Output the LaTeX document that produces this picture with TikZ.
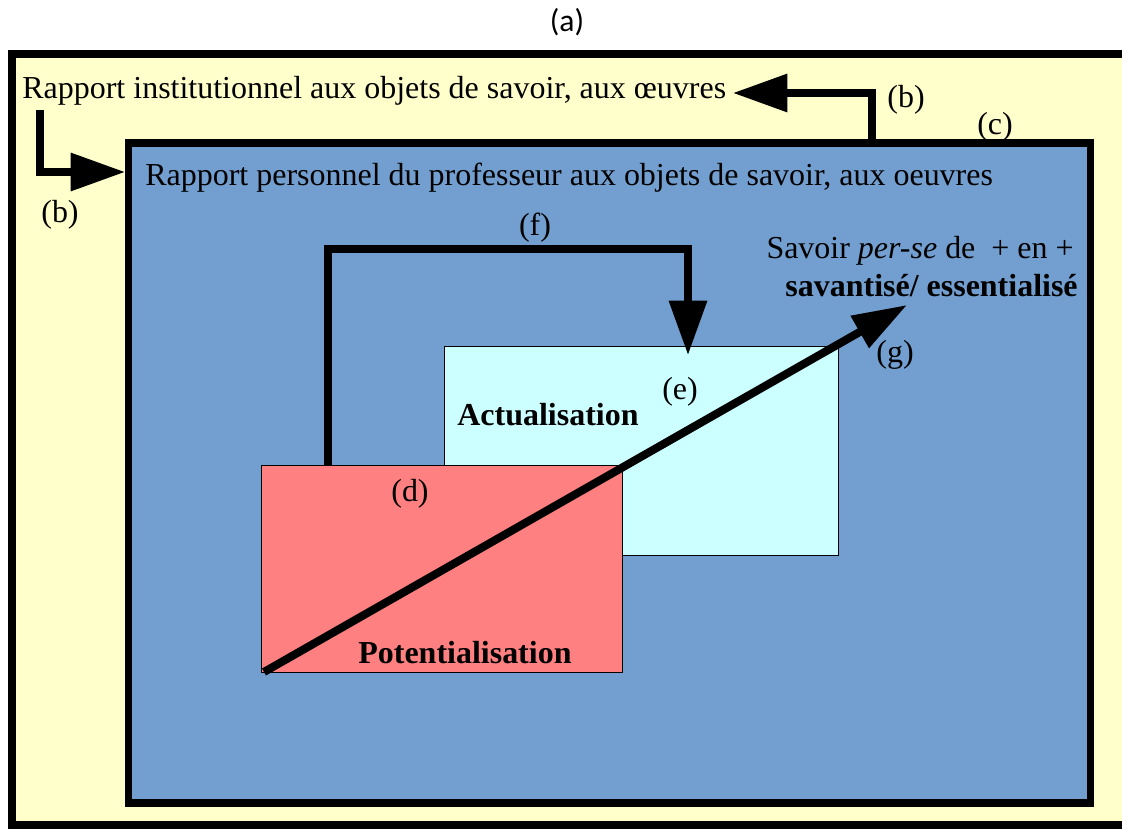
\documentclass[tikz,border=0pt]{standalone}
\usepackage{fontspec}
\setmainfont{Liberation Serif}
\newfontfamily\labelfont{Carlito}
\usetikzlibrary{arrows.meta,fit}
\definecolor{paleyellow}{HTML}{FFFFCC}
\definecolor{skyblue}{HTML}{729FCF}
\definecolor{palecyan}{HTML}{CCFFFF}
\definecolor{salmon}{HTML}{FF8080}
\tikzstyle{frame} = [draw, line width=4pt, inner sep=0pt]
\tikzstyle{box} = [draw, thin, inner sep=0pt]
\tikzstyle{bigarrow} = [line width=4pt, -{Triangle[length=31pt,width=21pt]}]
\tikzstyle{diagarrow} = [line width=4.6pt, -{Triangle[length=31pt,width=20pt]}]
\tikzstyle{txt} = [inner sep=0pt, font=\fontsize{18.2}{22}\selectfont]

\begin{document}
\begin{tikzpicture}[x=0.02cm, y=-0.02cm]
        \useasboundingbox (0,0) rectangle (1122,828);

        % Frames and boxes
        \node[frame, fill=paleyellow, fit={(12,54) (1128,825)}] (inst) {};
        \node[frame, fill=skyblue, fit={(128.5,143) (1090,803)}] (pers) {};
        \node[box, fill=palecyan, fit={(444,346) (838,555)}] (actu) {};
        \node[box, fill=salmon, fit={(261,465) (622,672)}] (pot) {};

        % Texts
        \node[txt, anchor=base west] (insttext) at (22,99) {Rapport institutionnel aux objets de savoir, aux œuvres};
        \node[txt, anchor=base west] (perstext) at (145,185) {Rapport personnel du professeur aux objets de savoir, aux oeuvres};
        \node[txt, anchor=base east] (savoir) at (1074,258) {Savoir \textit{per-se} de~ + en +};
        \node[txt, anchor=base east] (savant) at (1078,296) {\textbf{savantisé/ essentialisé}};
        \node[txt, anchor=base west] (actutext) at (457,425) {\textbf{Actualisation}};
        \node[txt, anchor=base west] (pottext) at (358,663) {\textbf{Potentialisation}};

        % Labels
        \node[txt, font=\fontsize{18}{22}\selectfont\labelfont] (la) at (567,22) {(a)};
        \node[txt] (lb1) at (60,215) {(b)};
        \node[txt] (lb2) at (906,100) {(b)};
        \node[txt] (lc) at (995,127) {(c)};
        \node[txt] (ld) at (410,494) {(d)};
        \node[txt] (le) at (680,392) {(e)};
        \node[txt] (lf) at (535,228) {(f)};
        \node[txt] (lg) at (895,355) {(g)};

        % Draw Arrows
        \coordinate (bstart) at (40,110);
        \coordinate (btip) at (125,172);
        \draw[bigarrow] (bstart) |- (btip);

        \coordinate (bout) at (872,143);
        \coordinate (bback) at (733,93);
        \draw[bigarrow] (bout) |- (bback);

        \coordinate (fstart) at (328,465);
        \coordinate (fturn) at (688,249);
        \coordinate (ftip) at (688,355);
        \draw[bigarrow] (fstart) |- (fturn) -- (ftip);

        \coordinate (gstart) at (264,672);
        \coordinate (gtip) at (907,305);
        \draw[diagarrow] (gstart) -- (gtip);

    \end{tikzpicture}
\end{document}
